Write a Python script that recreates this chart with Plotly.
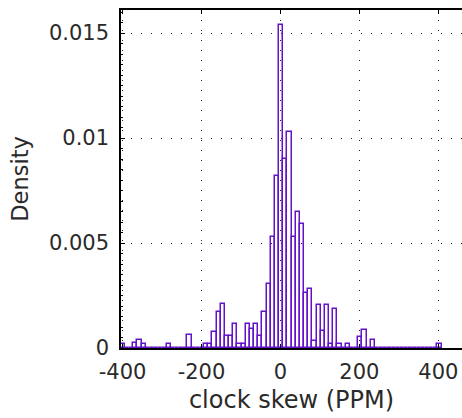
import numpy as np
import plotly.graph_objects as go

# Histogram binning (clock skew, PPM) and density values
bin_lo = -404.8
bin_width = 10.56
density = [
    0.00018, 0, 0, 0.00022, 0.0004, 0.00018, 0, 0, 0, 0,          # 0-9
    0, 0.00018, 0, 0, 0, 0, 0.0006, 0, 0, 0,                       # 10-19
    0.00018, 0.00018, 0.00075, 0.0017, 0.0021, 0.00055, 0.00055, 0.00115, 0.00018, 0.00018,  # 20-29
    0.00115, 0.00092, 0.00115, 0.00055, 0.0017, 0.00306, 0.0053, 0.0082, 0.0154, 0.0090,      # 30-39
    0.0103, 0.0053, 0.0065, 0.0059, 0.0026, 0.0028, 0.00035, 0.00206, 0.0008, 0.00206,        # 40-49
    0.00018, 0.00186, 0.00018, 0, 0.00018, 0, 0, 0.00054, 0.00086, 0,                          # 50-59
    0.00038, 0, 0, 0, 0, 0, 0, 0, 0, 0,                                                         # 60-69
    0, 0, 0, 0, 0, 0, 0.00018,                                                                  # 70-76
]
x_ticks = [-400, -200, 0, 200, 400]
x_ticktext = ["-400", "-200", "0", "200", "400"]
y_ticks = [0, 0.005, 0.01, 0.015]
y_ticktext = ["0", "0.005", "0.01", "0.015"]
x_title = "clock skew (PPM)"
y_title = "Density"

centers = bin_lo + bin_width * (np.arange(len(density)) + 0.5)

FONT = "DejaVu Sans"
TXT = "#2a2a2a"

fig = go.Figure(
    go.Bar(
        x=centers,
        y=density,
        width=bin_width,
        marker=dict(color="rgba(0,0,0,0)", line=dict(color="#6312c9", width=1.5)),
        hoverinfo="x+y",
    )
)

fig.update_layout(
    width=462,
    height=418,
    margin=dict(l=121, r=0, t=10, b=70),
    paper_bgcolor="white",
    plot_bgcolor="white",
    bargap=0,
    showlegend=False,
    font=dict(family=FONT, size=21, color=TXT),
)

fig.update_xaxes(
    range=[-404, 460],
    tickvals=x_ticks,
    ticktext=x_ticktext,
    ticks="inside",
    ticklen=4,
    tickcolor="black",
    showline=True,
    linecolor="black",
    linewidth=2,
    mirror="ticks",
    showgrid=True,
    gridcolor="#222222",
    gridwidth=1,
    griddash="1px,9px",
    zeroline=False,
    ticklabelstandoff=4,
    tickfont=dict(family=FONT, size=21, color=TXT),
    title=dict(text=x_title, font=dict(family=FONT, size=24, color=TXT), standoff=8),
)

fig.update_yaxes(
    range=[0, 0.0161],
    tickvals=y_ticks,
    ticktext=y_ticktext,
    ticks="inside",
    ticklen=4,
    tickcolor="black",
    minor=dict(dtick=0.0005, ticks="inside", ticklen=2, tickcolor="black", showgrid=False),
    showline=True,
    linecolor="black",
    linewidth=1.5,
    mirror=False,
    showgrid=True,
    gridcolor="#222222",
    gridwidth=1,
    griddash="1px,9px",
    zeroline=False,
    ticklabelstandoff=6,
    tickfont=dict(family=FONT, size=21, color=TXT),
    title=dict(text=y_title, font=dict(family=FONT, size=22.5, color=TXT), standoff=14),
)

fig.write_html("out.html")
